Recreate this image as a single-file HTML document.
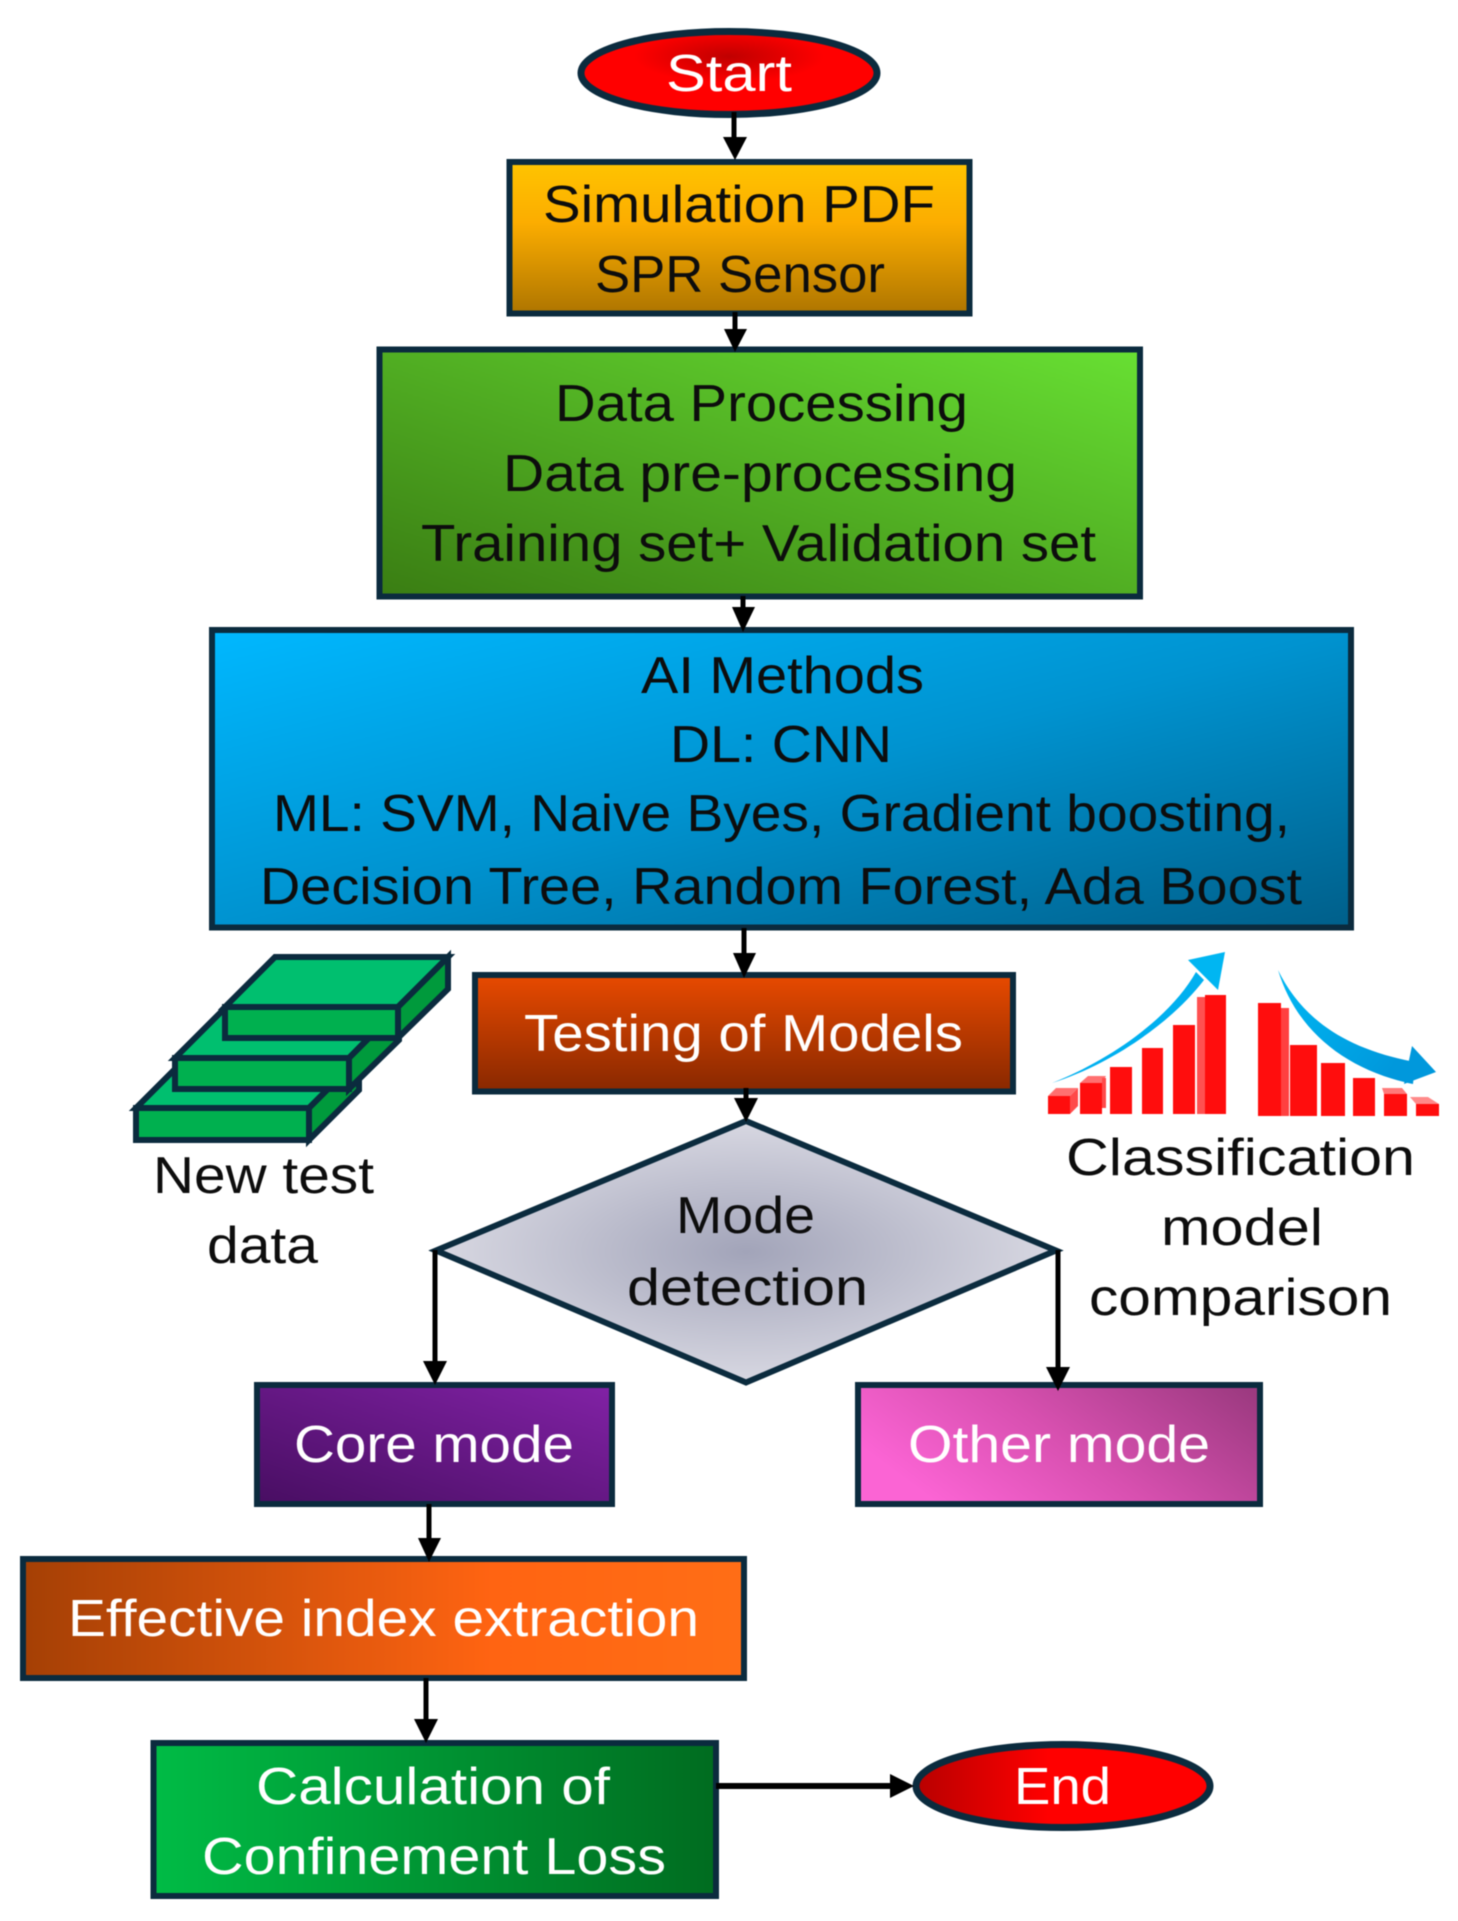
<!DOCTYPE html>
<html><head><meta charset="utf-8">
<style>html,body{margin:0;padding:0;background:#fff;width:1458px;height:1921px;overflow:hidden}svg{display:block;filter:blur(.5px)}
text{font-family:"Liberation Sans",sans-serif;font-size:52px}</style></head><body>
<svg xmlns="http://www.w3.org/2000/svg" width="1458" height="1921" viewBox="0 0 1458 1921">
<defs>
<radialGradient id="gS" cx=".5" cy=".3" r=".32"><stop offset="0" stop-color="#c00000"/><stop offset="1" stop-color="#f00"/></radialGradient>
<linearGradient id="gE" x1="0" x2="1" y1="0" y2="0"><stop offset="0" stop-color="#b80000"/><stop offset=".45" stop-color="#f00"/></linearGradient>
<linearGradient id="g1" x1="0" x2="0" y1="0" y2="1"><stop offset="0" stop-color="#ffc400"/><stop offset=".4" stop-color="#fcad00"/><stop offset="1" stop-color="#ae7500"/></linearGradient>
<linearGradient id="g2" x1="0" y1="1" x2="1" y2="0"><stop offset="0" stop-color="#3a7d13"/><stop offset="1" stop-color="#68e033"/></linearGradient>
<linearGradient id="g3" x1="0" y1="0" x2="1" y2="1"><stop offset="0" stop-color="#00b8ff"/><stop offset=".5" stop-color="#0093d0"/><stop offset="1" stop-color="#005f8a"/></linearGradient>
<linearGradient id="g4" x1="0" x2="0" y1="0" y2="1"><stop offset="0" stop-color="#e84a00"/><stop offset="1" stop-color="#882800"/></linearGradient>
<radialGradient id="g5" cx=".5" cy=".5" r=".5"><stop offset="0" stop-color="#a2a4b9"/><stop offset="1" stop-color="#d8d8e2"/></radialGradient>
<linearGradient id="g6" x1="0" y1="1" x2="1" y2="0"><stop offset="0" stop-color="#480e62"/><stop offset="1" stop-color="#8222a6"/></linearGradient>
<linearGradient id="g7" x1="0" y1=".5" x2="1" y2=".1"><stop offset="0" stop-color="#fb64d4"/><stop offset=".45" stop-color="#d850b0"/><stop offset="1" stop-color="#9c3a80"/></linearGradient>
<linearGradient id="g8" x1="0" x2="1" y1="0" y2="0"><stop offset="0" stop-color="#a54005"/><stop offset=".65" stop-color="#ff6412"/><stop offset="1" stop-color="#ff6e16"/></linearGradient>
<linearGradient id="g9" x1="0" x2="1" y1="0" y2="0"><stop offset="0" stop-color="#00bc46"/><stop offset="1" stop-color="#006c20"/></linearGradient>
<linearGradient id="ga" x1="0" x2="1" y1="0" y2=".6"><stop offset="0" stop-color="#00b8f4"/><stop offset="1" stop-color="#0098dc"/></linearGradient>
</defs>

<g stroke="#0b2b3e" stroke-width="6">
<ellipse cx="729" cy="73" rx="148" ry="41.5" fill="url(#gS)" stroke-width="7"/>
<rect x="509.5" y="162" width="460" height="151.5" fill="url(#g1)"/>
<rect x="379.5" y="349.5" width="760.5" height="247" fill="url(#g2)"/>
<rect x="212" y="630" width="1139" height="297.5" fill="url(#g3)"/>
<rect x="475" y="975" width="538" height="116.5" fill="url(#g4)"/>
<polygon points="746,1121 1056,1250.5 746,1382.5 436,1250.5" fill="url(#g5)"/>
<rect x="257" y="1385" width="355" height="119" fill="url(#g6)"/>
<rect x="858" y="1385" width="402" height="119" fill="url(#g7)"/>
<rect x="23" y="1559" width="721" height="119" fill="url(#g8)"/>
<rect x="153.5" y="1743" width="562.5" height="153" fill="url(#g9)"/>
<ellipse cx="1063" cy="1786" rx="147" ry="41.5" fill="url(#gE)" stroke-width="7"/>
</g>

<g stroke="#000" stroke-width="5" fill="#000">
<line x1="734" y1="112" x2="734" y2="140"/><polygon stroke="none" points="723,137 747,137 735,160"/>
<line x1="735" y1="312" x2="735" y2="332"/><polygon stroke="none" points="724,329 747,329 735,352"/>
<line x1="743" y1="596" x2="743" y2="612"/><polygon stroke="none" points="732,607 755,607 743,632"/>
<line x1="744" y1="928" x2="744" y2="958"/><polygon stroke="none" points="733,953 756,953 744,978"/>
<line x1="746" y1="1088" x2="746" y2="1105"/><polygon stroke="none" points="734,1098 758,1098 746,1122"/>
<line x1="435" y1="1250" x2="435" y2="1364"/><polygon stroke="none" points="423,1361 447,1361 435,1385"/>
<line x1="1058" y1="1250" x2="1058" y2="1370"/><polygon stroke="none" points="1046,1367 1070,1367 1058,1391"/>
<line x1="429" y1="1504" x2="429" y2="1542"/><polygon stroke="none" points="418,1538 441,1538 429,1562"/>
<line x1="426" y1="1678" x2="426" y2="1722"/><polygon stroke="none" points="414,1719 438,1719 426,1743"/>
<line x1="716" y1="1786" x2="893" y2="1786" stroke-width="6"/><polygon stroke="none" points="890,1774 890,1798 914,1786"/>
</g>

<!-- slabs -->
<g stroke="#0b2b3e" stroke-width="6" stroke-linejoin="miter">
<polygon points="136,1108 186,1058 359,1058 309,1108" fill="#00bf6f"/>
<polygon points="309,1108 359,1058 359,1090 309,1140" fill="#009a3c"/>
<rect x="136" y="1108" width="173" height="32" fill="#00b04f"/>
<polygon points="175,1058 225,1008 398,1008 349,1058" fill="#00bf6f"/>
<polygon points="349,1058 399,1008 399,1040 349,1089" fill="#009a3c"/>
<rect x="175" y="1058" width="174" height="31" fill="#00b04f"/>
<polygon points="225,1007 275,957 448,957 398,1007" fill="#00bf6f"/>
<polygon points="398,1007 448,957 448,989 398,1038" fill="#009a3c"/>
<rect x="225" y="1007" width="173" height="31" fill="#00b04f"/>
</g>

<!-- chart -->
<g fill="#ff0d0d">
<polygon points="1048,1096 1056,1088 1078,1088 1070,1096" fill="#ff7070"/><polygon points="1070,1096 1078,1088 1078,1106 1070,1114" fill="#ff4a4a"/>
<rect x="1048" y="1096" width="22" height="18"/>
<polygon points="1080,1083 1088,1076 1106,1076 1102,1083" fill="#ff7070"/><rect x="1102" y="1078" width="4" height="30" fill="#ff4a4a"/>
<rect x="1080" y="1083" width="22" height="31"/>
<rect x="1110" y="1067" width="22" height="47"/>
<rect x="1142" y="1048" width="21" height="66"/>
<rect x="1173" y="1025" width="22" height="89"/>
<rect x="1197" y="997" width="8" height="117" fill="#ff5050"/>
<rect x="1205" y="995" width="21" height="119"/>
<rect x="1258" y="1003" width="23" height="113"/>
<rect x="1281" y="1008" width="8" height="108" fill="#ff4040"/>
<rect x="1290" y="1045" width="27" height="71"/>
<rect x="1321" y="1063" width="24" height="53"/>
<rect x="1353" y="1078" width="22" height="38"/>
<rect x="1384" y="1094" width="23" height="22"/><polygon points="1384,1094 1382,1088 1402,1088 1407,1094" fill="#ff7a7a"/>
<rect x="1416" y="1104" width="23" height="12"/><polygon points="1416,1104 1410,1097 1428,1097 1439,1104" fill="#ff8a8a"/>
</g>
<path d="M1052,1083 C1110,1060 1170,1018 1196,972 L1204,980 C1172,1022 1112,1064 1052,1083Z" fill="#00b0f0"/>
<polygon points="1188,960 1225,952 1218,990" fill="#00b6f2"/>
<path d="M1278,970 C1300,1015 1340,1048 1415,1062 L1413,1084 C1345,1070 1296,1030 1278,970Z" fill="url(#ga)"/>
<polygon points="1412,1046 1436,1072 1404,1084" fill="#0098dc"/>

<g fill="#0d0d0d">
<text x="543" y="222" textLength="392" lengthAdjust="spacingAndGlyphs">Simulation PDF</text>
<text x="595" y="292" textLength="290" lengthAdjust="spacingAndGlyphs">SPR Sensor</text>
<text x="555" y="421" textLength="413" lengthAdjust="spacingAndGlyphs">Data Processing</text>
<text x="503" y="491" textLength="514" lengthAdjust="spacingAndGlyphs">Data pre-processing</text>
<text x="421" y="561" textLength="675" lengthAdjust="spacingAndGlyphs">Training set+ Validation set</text>
<text x="641" y="693" textLength="283" lengthAdjust="spacingAndGlyphs">AI Methods</text>
<text x="670" y="762" textLength="222" lengthAdjust="spacingAndGlyphs">DL: CNN</text>
<text x="273" y="831" textLength="1017" lengthAdjust="spacingAndGlyphs">ML: SVM, Naive Byes, Gradient boosting,</text>
<text x="260" y="904" textLength="1042" lengthAdjust="spacingAndGlyphs">Decision Tree, Random Forest, Ada Boost</text>
<text x="153" y="1193" textLength="221" lengthAdjust="spacingAndGlyphs">New test</text>
<text x="207" y="1263" textLength="111" lengthAdjust="spacingAndGlyphs">data</text>
<text x="1066" y="1175" textLength="349" lengthAdjust="spacingAndGlyphs">Classification</text>
<text x="1161" y="1245" textLength="162" lengthAdjust="spacingAndGlyphs">model</text>
<text x="1089" y="1315" textLength="303" lengthAdjust="spacingAndGlyphs">comparison</text>
<text x="676" y="1233" textLength="139" lengthAdjust="spacingAndGlyphs">Mode</text>
<text x="627" y="1305" textLength="241" lengthAdjust="spacingAndGlyphs">detection</text>
</g>
<g fill="#fff">
<text x="666" y="91" textLength="126" lengthAdjust="spacingAndGlyphs">Start</text>
<text x="524" y="1051" textLength="439" lengthAdjust="spacingAndGlyphs">Testing of Models</text>
<text x="294" y="1462" textLength="280" lengthAdjust="spacingAndGlyphs">Core mode</text>
<text x="908" y="1462" textLength="302" lengthAdjust="spacingAndGlyphs">Other mode</text>
<text x="68" y="1636" textLength="631" lengthAdjust="spacingAndGlyphs">Effective index extraction</text>
<text x="256" y="1804" textLength="354" lengthAdjust="spacingAndGlyphs">Calculation of</text>
<text x="202" y="1874" textLength="464" lengthAdjust="spacingAndGlyphs">Confinement Loss</text>
<text x="1014" y="1804" textLength="97" lengthAdjust="spacingAndGlyphs">End</text>
</g>
</svg>
</body></html>
